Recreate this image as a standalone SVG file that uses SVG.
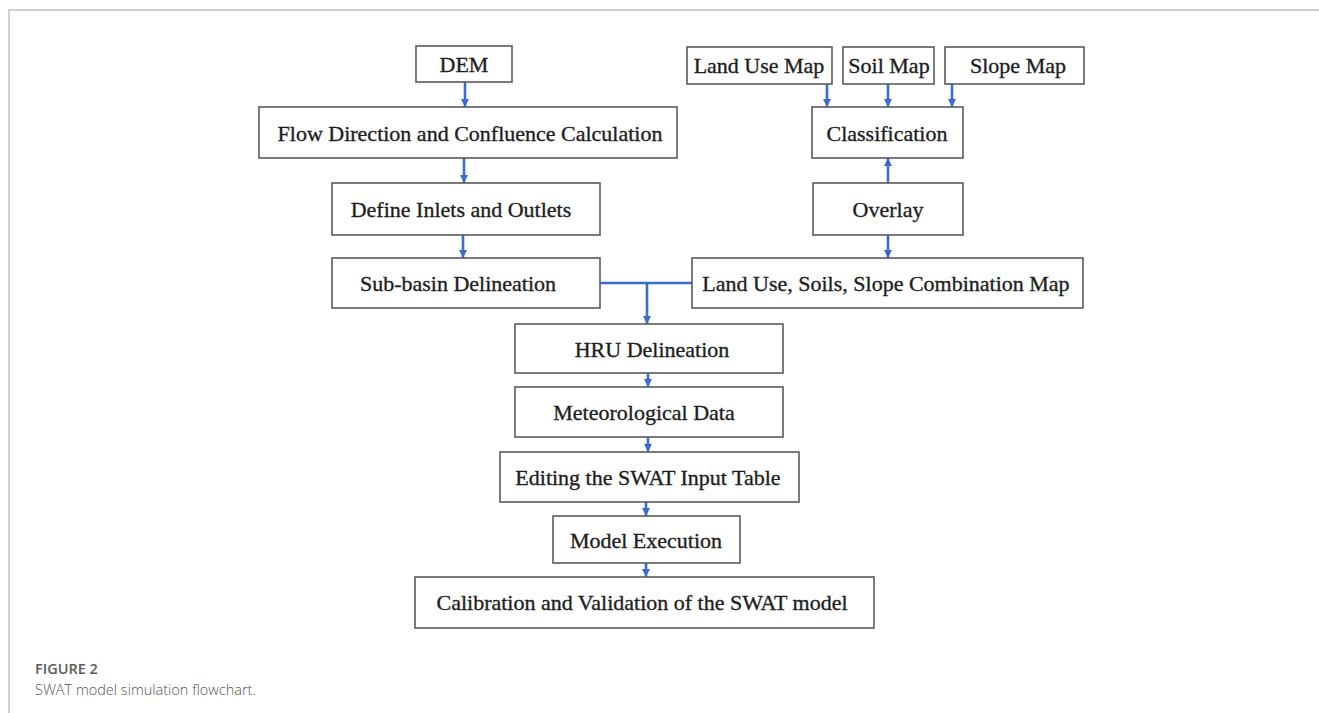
<svg xmlns="http://www.w3.org/2000/svg" width="1319" height="713" viewBox="0 0 1319 713">
<style>
.box{fill:#fff;stroke:#5a5a5a;stroke-width:1.6}
.lbl{font-family:"Liberation Serif","Times New Roman",serif;font-size:22px;fill:#1e1e1e;text-anchor:middle;stroke:#1e1e1e;stroke-width:0.35}
.con{fill:none;stroke:#3a6cd0;stroke-width:2.6}
.arr{marker-end:url(#ah)}
.frame{stroke:#cfcfcf;stroke-width:2;fill:none}
</style>
<defs>
<marker id="ah" markerUnits="userSpaceOnUse" markerWidth="9" markerHeight="9" refX="8" refY="4.5" orient="auto">
<path d="M0,0.5 L8,4.5 L0,8.5 z" fill="#3a6cd0"/>
</marker>
</defs>
<rect width="1319" height="713" fill="#fff"/>
<path class="frame" d="M9,713 V10 H1319"/>

<g id="connectors">
<line class="con arr" x1="465" y1="82" x2="465" y2="107"/>
<line class="con arr" x1="464" y1="158" x2="464" y2="183"/>
<line class="con arr" x1="463" y1="235" x2="463" y2="258"/>
<line class="con" x1="600" y1="283" x2="692" y2="283"/>
<line class="con arr" x1="647" y1="283" x2="647" y2="324"/>
<line class="con arr" x1="827" y1="84" x2="827" y2="107"/>
<line class="con arr" x1="888" y1="84" x2="888" y2="107"/>
<line class="con arr" x1="952" y1="84" x2="952" y2="107"/>
<line class="con arr" x1="888" y1="183" x2="888" y2="158"/>
<line class="con arr" x1="888" y1="235" x2="888" y2="258"/>
<line class="con arr" x1="648" y1="373" x2="648" y2="387"/>
<line class="con arr" x1="648" y1="437" x2="648" y2="452"/>
<line class="con arr" x1="646" y1="502" x2="646" y2="516"/>
<line class="con arr" x1="646" y1="563" x2="646" y2="577"/>
</g>

<g id="dem"><rect class="box" x="416" y="46" width="96" height="36"/><text class="lbl" x="464" y="72">DEM</text></g>
<g id="flow"><rect class="box" x="259" y="107" width="418" height="51"/><text class="lbl" x="470" y="141">Flow Direction and Confluence Calculation</text></g>
<g id="define"><rect class="box" x="332" y="183" width="268" height="52"/><text class="lbl" x="461" y="217">Define Inlets and Outlets</text></g>
<g id="subbasin"><rect class="box" x="332" y="258" width="268" height="50"/><text class="lbl" x="458" y="291">Sub-basin Delineation</text></g>
<g id="landuse"><rect class="box" x="687" y="47" width="145" height="37"/><text class="lbl" x="759" y="73">Land Use Map</text></g>
<g id="soil"><rect class="box" x="843" y="47" width="91" height="37"/><text class="lbl" x="889" y="73">Soil Map</text></g>
<g id="slope"><rect class="box" x="945" y="47" width="139" height="37"/><text class="lbl" x="1018" y="73">Slope Map</text></g>
<g id="classification"><rect class="box" x="812" y="107" width="151" height="51"/><text class="lbl" x="887" y="141">Classification</text></g>
<g id="overlay"><rect class="box" x="813" y="183" width="150" height="52"/><text class="lbl" x="888" y="217">Overlay</text></g>
<g id="combination"><rect class="box" x="692" y="258" width="391" height="50"/><text class="lbl" x="886" y="291">Land Use, Soils, Slope Combination Map</text></g>
<g id="hru"><rect class="box" x="515" y="324" width="268" height="49"/><text class="lbl" x="652" y="357">HRU Delineation</text></g>
<g id="meteo"><rect class="box" x="515" y="387" width="268" height="50"/><text class="lbl" x="644" y="420">Meteorological Data</text></g>
<g id="editing"><rect class="box" x="500" y="452" width="299" height="50"/><text class="lbl" x="648" y="485">Editing the SWAT Input Table</text></g>
<g id="execution"><rect class="box" x="553" y="516" width="187" height="47"/><text class="lbl" x="646" y="548">Model Execution</text></g>
<g id="calibration"><rect class="box" x="415" y="577" width="459" height="51"/><text class="lbl" x="642" y="610">Calibration and Validation of the SWAT model</text></g>

<g id="caption">
<text x="35" y="674" font-family="'Open Sans','Liberation Sans',sans-serif" font-size="14.5" font-weight="600" fill="#5a5a5a">FIGURE 2</text>
<text x="35" y="695" font-family="'Open Sans','Liberation Sans',sans-serif" font-size="14.5" font-weight="300" fill="#555">SWAT model simulation flowchart.</text>
</g>
</svg>
